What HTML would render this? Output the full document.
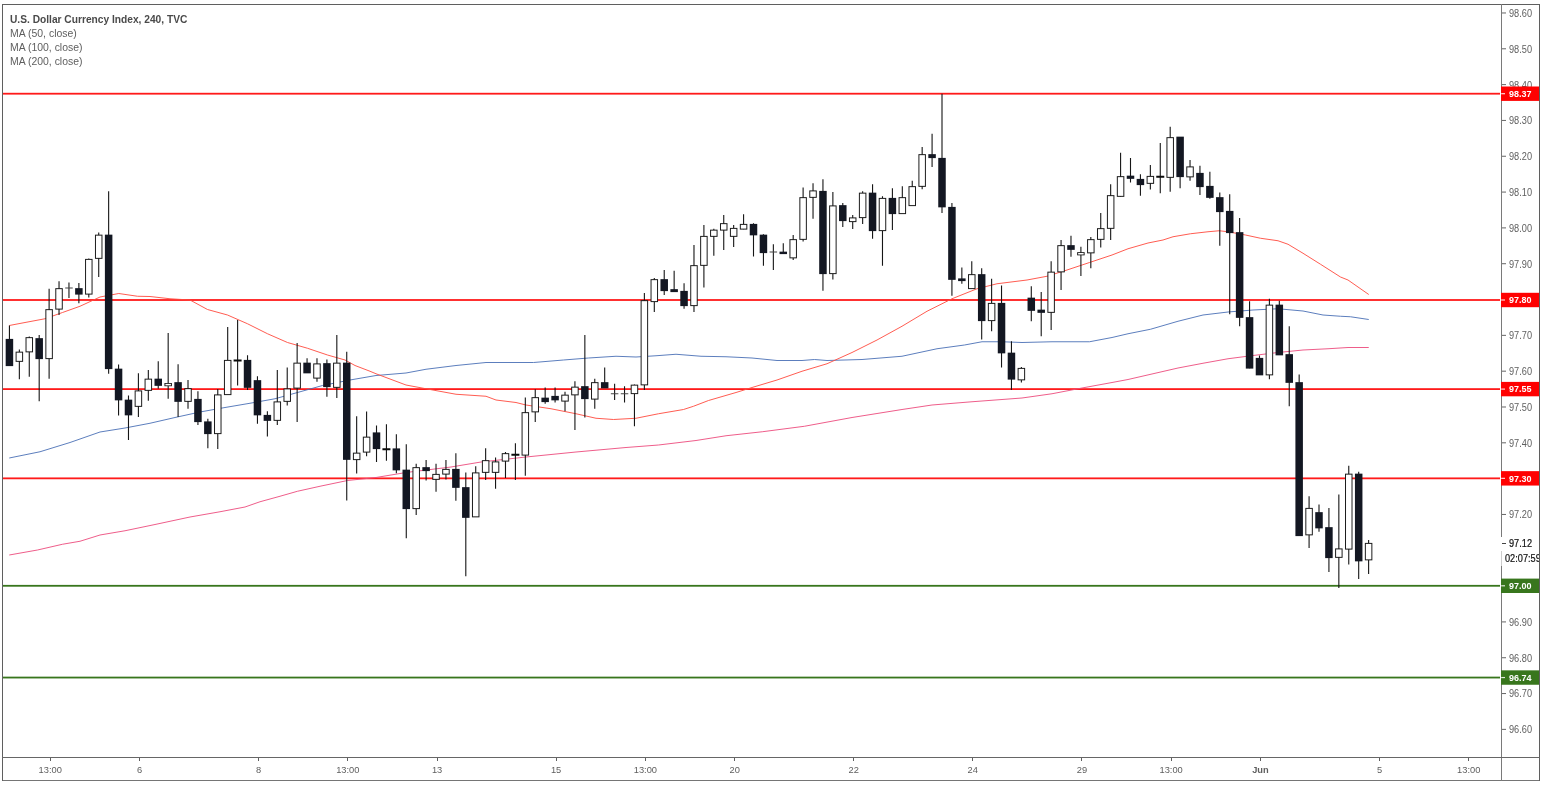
<!DOCTYPE html><html><head><meta charset="utf-8"><title>chart</title><style>
html,body{margin:0;padding:0;background:#fff;}
body{width:1545px;height:787px;overflow:hidden;position:relative;font-family:"Liberation Sans",sans-serif;}
svg{position:absolute;left:0;top:0;}
text{font-family:"Liberation Sans",sans-serif;}
svg{will-change:transform;opacity:0.999;}
</style></head><body>
<svg width="1545" height="787" viewBox="0 0 1545 787">
<rect x="0" y="0" width="1545" height="787" fill="#fff"/>
<rect x="3" y="92.80" width="1497" height="1.8" fill="#ff1a1a"/>
<rect x="3" y="299.10" width="1497" height="1.8" fill="#ff1a1a"/>
<rect x="3" y="388.20" width="1497" height="1.8" fill="#ff1a1a"/>
<rect x="3" y="477.45" width="1497" height="1.8" fill="#ff1a1a"/>
<rect x="3" y="584.90" width="1497" height="1.8" fill="#38761d"/>
<rect x="3" y="676.65" width="1497" height="1.8" fill="#38761d"/>
<polyline points="9.25,458.00 40.00,451.75 70.00,442.50 100.00,432.00 125.00,428.00 150.00,423.25 175.00,417.50 200.00,412.00 225.00,407.50 250.00,403.25 275.00,398.75 297.50,392.50 322.50,385.50 350.00,380.00 376.00,375.50 406.00,373.00 426.00,369.25 456.00,365.50 486.00,362.50 533.50,362.50 563.50,360.00 588.50,358.00 616.00,356.25 636.00,357.00 656.00,355.75 676.00,354.25 701.00,356.25 726.00,356.75 752.00,358.00 777.00,360.50 802.00,360.50 814.50,359.50 827.00,360.50 862.00,359.50 902.00,356.25 937.00,348.75 964.50,345.00 982.00,341.75 1002.00,341.75 1022.00,342.50 1052.00,341.75 1089.50,341.75 1112.00,337.50 1128.00,333.75 1150.50,329.25 1178.00,321.25 1203.00,315.00 1228.00,312.00 1253.00,310.00 1278.00,308.75 1303.00,311.00 1323.00,315.00 1340.50,316.25 1350.50,316.75 1368.75,319.50" fill="none" stroke="#4a6fb5" stroke-width="0.9" stroke-linejoin="round"/>
<polyline points="9.25,555.00 37.50,550.00 62.50,544.25 80.00,541.25 100.00,535.00 125.00,530.75 155.00,524.50 190.00,517.00 220.00,511.75 245.00,507.00 260.00,501.75 280.00,496.25 297.50,491.25 320.00,486.25 347.50,480.50 376.00,477.50 406.00,472.50 451.00,467.00 481.00,462.00 526.00,457.00 576.00,452.00 626.00,447.50 658.50,445.00 696.00,440.50 726.00,435.75 762.25,431.75 804.50,426.25 852.00,417.50 902.00,409.50 932.00,405.00 972.00,401.75 1022.00,398.00 1052.00,393.75 1082.00,388.00 1112.00,382.50 1128.00,379.50 1153.00,373.75 1178.00,368.00 1203.00,363.25 1228.00,358.75 1253.00,355.50 1278.00,352.50 1303.00,350.00 1328.00,348.75 1348.00,347.50 1368.75,347.50" fill="none" stroke="#ec4b7d" stroke-width="0.9" stroke-linejoin="round"/>
<polyline points="9.25,325.50 25.00,322.50 45.00,318.75 62.50,312.50 80.00,306.25 100.00,297.00 118.75,293.50 137.50,296.25 150.00,296.50 170.00,298.75 190.00,300.00 207.50,309.50 227.50,315.00 247.50,323.75 267.50,333.75 287.50,342.50 307.50,348.25 327.50,355.00 345.00,360.00 355.00,365.50 370.00,371.25 376.00,373.75 406.00,385.00 426.00,388.75 456.00,394.25 486.00,396.25 496.00,400.00 516.00,402.50 526.00,405.00 551.00,408.75 576.00,413.75 596.00,418.25 613.50,419.50 636.00,418.25 658.50,413.75 683.50,409.50 693.50,406.25 708.50,400.50 736.00,392.50 752.00,387.50 777.00,380.00 802.00,371.25 827.00,363.75 852.00,352.50 877.00,340.00 902.00,326.25 927.00,311.25 952.00,298.75 977.00,288.75 997.00,283.75 1027.00,280.00 1047.00,276.25 1067.00,270.00 1089.50,262.50 1112.00,255.00 1128.00,248.75 1148.00,243.00 1163.00,240.00 1173.00,236.75 1190.50,233.75 1208.00,231.75 1219.25,230.75 1228.00,231.75 1245.50,235.00 1260.50,238.25 1278.00,240.75 1288.00,244.25 1303.00,253.25 1320.50,264.25 1340.50,277.00 1348.00,280.00 1368.75,294.50" fill="none" stroke="#ff4a3d" stroke-width="0.9" stroke-linejoin="round"/>
<g>
<rect x="8.88" y="325.50" width="1.1" height="40.25" fill="#161616"/>
<rect x="5.68" y="338.90" width="7.5" height="27.20" fill="#131722"/>
<rect x="18.80" y="349.50" width="1.1" height="29.75" fill="#161616"/>
<rect x="15.60" y="351.65" width="7.5" height="10.20" fill="#1c1c1c"/>
<rect x="16.60" y="352.65" width="5.5" height="8.20" fill="#fff"/>
<rect x="28.72" y="336.50" width="1.1" height="40.25" fill="#161616"/>
<rect x="25.52" y="337.15" width="7.5" height="15.20" fill="#1c1c1c"/>
<rect x="26.52" y="338.15" width="5.5" height="13.20" fill="#fff"/>
<rect x="38.64" y="335.00" width="1.1" height="66.25" fill="#161616"/>
<rect x="35.44" y="338.15" width="7.5" height="20.95" fill="#131722"/>
<rect x="48.56" y="288.75" width="1.1" height="90.00" fill="#161616"/>
<rect x="45.36" y="309.15" width="7.5" height="49.95" fill="#1c1c1c"/>
<rect x="46.36" y="310.15" width="5.5" height="47.95" fill="#fff"/>
<rect x="58.48" y="281.25" width="1.1" height="33.75" fill="#161616"/>
<rect x="55.28" y="288.15" width="7.5" height="21.45" fill="#1c1c1c"/>
<rect x="56.28" y="289.15" width="5.5" height="19.45" fill="#fff"/>
<rect x="68.41" y="282.50" width="1.1" height="15.50" fill="#161616"/>
<rect x="65.21" y="287.50" width="7.5" height="1" fill="#444"/>
<rect x="78.33" y="283.00" width="1.1" height="20.25" fill="#161616"/>
<rect x="75.13" y="288.15" width="7.5" height="6.45" fill="#131722"/>
<rect x="88.25" y="258.50" width="1.1" height="39.00" fill="#161616"/>
<rect x="85.05" y="258.90" width="7.5" height="35.70" fill="#1c1c1c"/>
<rect x="86.05" y="259.90" width="5.5" height="33.70" fill="#fff"/>
<rect x="98.17" y="232.50" width="1.1" height="44.50" fill="#161616"/>
<rect x="94.97" y="234.65" width="7.5" height="24.20" fill="#1c1c1c"/>
<rect x="95.97" y="235.65" width="5.5" height="22.20" fill="#fff"/>
<rect x="108.09" y="191.25" width="1.1" height="182.50" fill="#161616"/>
<rect x="104.89" y="234.65" width="7.5" height="134.45" fill="#131722"/>
<rect x="118.01" y="364.50" width="1.1" height="51.00" fill="#161616"/>
<rect x="114.81" y="368.65" width="7.5" height="31.70" fill="#131722"/>
<rect x="127.93" y="395.50" width="1.1" height="44.50" fill="#161616"/>
<rect x="124.73" y="399.65" width="7.5" height="15.70" fill="#131722"/>
<rect x="137.85" y="373.25" width="1.1" height="43.75" fill="#161616"/>
<rect x="134.65" y="390.40" width="7.5" height="16.45" fill="#1c1c1c"/>
<rect x="135.65" y="391.40" width="5.5" height="14.45" fill="#fff"/>
<rect x="147.77" y="370.00" width="1.1" height="30.75" fill="#161616"/>
<rect x="144.57" y="378.65" width="7.5" height="12.20" fill="#1c1c1c"/>
<rect x="145.57" y="379.65" width="5.5" height="10.20" fill="#fff"/>
<rect x="157.69" y="361.25" width="1.1" height="27.50" fill="#161616"/>
<rect x="154.50" y="378.65" width="7.5" height="7.20" fill="#131722"/>
<rect x="167.62" y="333.00" width="1.1" height="65.75" fill="#161616"/>
<rect x="164.42" y="383.02" width="7.5" height="3.20" fill="#1c1c1c"/>
<rect x="165.42" y="383.88" width="5.5" height="1.50" fill="#fff"/>
<rect x="177.54" y="364.25" width="1.1" height="52.75" fill="#161616"/>
<rect x="174.34" y="382.15" width="7.5" height="19.70" fill="#131722"/>
<rect x="187.46" y="380.00" width="1.1" height="28.75" fill="#161616"/>
<rect x="184.26" y="388.15" width="7.5" height="13.70" fill="#1c1c1c"/>
<rect x="185.26" y="389.15" width="5.5" height="11.70" fill="#fff"/>
<rect x="197.38" y="391.25" width="1.1" height="33.75" fill="#161616"/>
<rect x="194.18" y="398.90" width="7.5" height="23.20" fill="#131722"/>
<rect x="207.30" y="418.75" width="1.1" height="29.50" fill="#161616"/>
<rect x="204.10" y="421.40" width="7.5" height="12.70" fill="#131722"/>
<rect x="217.22" y="389.00" width="1.1" height="60.00" fill="#161616"/>
<rect x="214.02" y="394.40" width="7.5" height="39.70" fill="#1c1c1c"/>
<rect x="215.02" y="395.40" width="5.5" height="37.70" fill="#fff"/>
<rect x="227.14" y="327.00" width="1.1" height="67.75" fill="#161616"/>
<rect x="223.94" y="359.90" width="7.5" height="35.20" fill="#1c1c1c"/>
<rect x="224.94" y="360.90" width="5.5" height="33.20" fill="#fff"/>
<rect x="237.06" y="320.00" width="1.1" height="65.50" fill="#161616"/>
<rect x="233.61" y="359.50" width="8" height="2" fill="#0a0a0a"/>
<rect x="246.98" y="355.25" width="1.1" height="34.75" fill="#161616"/>
<rect x="243.78" y="359.90" width="7.5" height="27.95" fill="#131722"/>
<rect x="256.90" y="376.25" width="1.1" height="47.50" fill="#161616"/>
<rect x="253.70" y="380.15" width="7.5" height="35.20" fill="#131722"/>
<rect x="266.83" y="411.25" width="1.1" height="25.25" fill="#161616"/>
<rect x="263.63" y="414.90" width="7.5" height="5.95" fill="#131722"/>
<rect x="276.75" y="370.00" width="1.1" height="55.00" fill="#161616"/>
<rect x="273.55" y="401.40" width="7.5" height="19.45" fill="#1c1c1c"/>
<rect x="274.55" y="402.40" width="5.5" height="17.45" fill="#fff"/>
<rect x="286.67" y="367.50" width="1.1" height="38.00" fill="#161616"/>
<rect x="283.47" y="388.40" width="7.5" height="13.45" fill="#1c1c1c"/>
<rect x="284.47" y="389.40" width="5.5" height="11.45" fill="#fff"/>
<rect x="296.59" y="343.00" width="1.1" height="79.00" fill="#161616"/>
<rect x="293.39" y="362.65" width="7.5" height="25.95" fill="#1c1c1c"/>
<rect x="294.39" y="363.65" width="5.5" height="23.95" fill="#fff"/>
<rect x="306.51" y="358.25" width="1.1" height="14.75" fill="#161616"/>
<rect x="303.31" y="362.65" width="7.5" height="10.70" fill="#131722"/>
<rect x="316.43" y="358.25" width="1.1" height="23.50" fill="#161616"/>
<rect x="313.23" y="363.40" width="7.5" height="15.20" fill="#1c1c1c"/>
<rect x="314.23" y="364.40" width="5.5" height="13.20" fill="#fff"/>
<rect x="326.35" y="359.50" width="1.1" height="37.25" fill="#161616"/>
<rect x="323.15" y="363.15" width="7.5" height="23.95" fill="#131722"/>
<rect x="336.27" y="335.00" width="1.1" height="63.00" fill="#161616"/>
<rect x="333.07" y="362.65" width="7.5" height="25.20" fill="#1c1c1c"/>
<rect x="334.07" y="363.65" width="5.5" height="23.20" fill="#fff"/>
<rect x="346.19" y="351.75" width="1.1" height="148.75" fill="#161616"/>
<rect x="342.99" y="362.65" width="7.5" height="97.20" fill="#131722"/>
<rect x="356.11" y="416.25" width="1.1" height="57.25" fill="#161616"/>
<rect x="352.91" y="452.65" width="7.5" height="7.45" fill="#1c1c1c"/>
<rect x="353.91" y="453.65" width="5.5" height="5.45" fill="#fff"/>
<rect x="366.04" y="411.50" width="1.1" height="44.75" fill="#161616"/>
<rect x="362.84" y="436.65" width="7.5" height="15.95" fill="#1c1c1c"/>
<rect x="363.84" y="437.65" width="5.5" height="13.95" fill="#fff"/>
<rect x="375.96" y="425.50" width="1.1" height="36.50" fill="#161616"/>
<rect x="372.76" y="432.40" width="7.5" height="16.70" fill="#131722"/>
<rect x="385.88" y="424.25" width="1.1" height="36.50" fill="#161616"/>
<rect x="382.43" y="448.25" width="8" height="2" fill="#0a0a0a"/>
<rect x="395.80" y="434.25" width="1.1" height="39.00" fill="#161616"/>
<rect x="392.60" y="448.40" width="7.5" height="21.95" fill="#131722"/>
<rect x="405.72" y="444.25" width="1.1" height="94.00" fill="#161616"/>
<rect x="402.52" y="469.65" width="7.5" height="39.45" fill="#131722"/>
<rect x="415.64" y="463.75" width="1.1" height="51.25" fill="#161616"/>
<rect x="412.44" y="467.15" width="7.5" height="41.95" fill="#1c1c1c"/>
<rect x="413.44" y="468.15" width="5.5" height="39.95" fill="#fff"/>
<rect x="425.56" y="460.00" width="1.1" height="20.50" fill="#161616"/>
<rect x="422.36" y="467.15" width="7.5" height="3.95" fill="#131722"/>
<rect x="435.48" y="463.75" width="1.1" height="28.00" fill="#161616"/>
<rect x="432.28" y="473.90" width="7.5" height="5.95" fill="#1c1c1c"/>
<rect x="433.28" y="474.90" width="5.5" height="3.95" fill="#fff"/>
<rect x="445.40" y="460.00" width="1.1" height="19.50" fill="#161616"/>
<rect x="442.20" y="468.90" width="7.5" height="5.70" fill="#1c1c1c"/>
<rect x="443.20" y="469.90" width="5.5" height="3.70" fill="#fff"/>
<rect x="455.32" y="453.25" width="1.1" height="47.50" fill="#161616"/>
<rect x="452.12" y="468.90" width="7.5" height="18.95" fill="#131722"/>
<rect x="465.25" y="472.50" width="1.1" height="103.75" fill="#161616"/>
<rect x="462.05" y="487.15" width="7.5" height="30.70" fill="#131722"/>
<rect x="475.17" y="466.25" width="1.1" height="50.75" fill="#161616"/>
<rect x="471.97" y="472.40" width="7.5" height="44.95" fill="#1c1c1c"/>
<rect x="472.97" y="473.40" width="5.5" height="42.95" fill="#fff"/>
<rect x="485.09" y="448.25" width="1.1" height="31.75" fill="#161616"/>
<rect x="481.89" y="460.15" width="7.5" height="12.70" fill="#1c1c1c"/>
<rect x="482.89" y="461.15" width="5.5" height="10.70" fill="#fff"/>
<rect x="495.01" y="457.50" width="1.1" height="31.25" fill="#161616"/>
<rect x="491.81" y="461.40" width="7.5" height="11.45" fill="#1c1c1c"/>
<rect x="492.81" y="462.40" width="5.5" height="9.45" fill="#fff"/>
<rect x="504.93" y="452.00" width="1.1" height="26.00" fill="#161616"/>
<rect x="501.73" y="453.15" width="7.5" height="8.45" fill="#1c1c1c"/>
<rect x="502.73" y="454.15" width="5.5" height="6.45" fill="#fff"/>
<rect x="514.85" y="443.25" width="1.1" height="36.75" fill="#161616"/>
<rect x="511.40" y="453.75" width="8" height="2" fill="#0a0a0a"/>
<rect x="524.77" y="397.50" width="1.1" height="78.25" fill="#161616"/>
<rect x="521.57" y="412.15" width="7.5" height="43.45" fill="#1c1c1c"/>
<rect x="522.57" y="413.15" width="5.5" height="41.45" fill="#fff"/>
<rect x="534.69" y="389.25" width="1.1" height="32.75" fill="#161616"/>
<rect x="531.49" y="397.15" width="7.5" height="15.20" fill="#1c1c1c"/>
<rect x="532.49" y="398.15" width="5.5" height="13.20" fill="#fff"/>
<rect x="544.61" y="387.50" width="1.1" height="16.25" fill="#161616"/>
<rect x="541.41" y="397.65" width="7.5" height="4.45" fill="#131722"/>
<rect x="554.53" y="387.50" width="1.1" height="15.00" fill="#161616"/>
<rect x="551.33" y="395.90" width="7.5" height="4.45" fill="#131722"/>
<rect x="564.46" y="391.75" width="1.1" height="19.50" fill="#161616"/>
<rect x="561.26" y="394.65" width="7.5" height="6.95" fill="#1c1c1c"/>
<rect x="562.26" y="395.65" width="5.5" height="4.95" fill="#fff"/>
<rect x="574.38" y="381.25" width="1.1" height="48.75" fill="#161616"/>
<rect x="571.18" y="386.65" width="7.5" height="8.70" fill="#1c1c1c"/>
<rect x="572.18" y="387.65" width="5.5" height="6.70" fill="#fff"/>
<rect x="584.30" y="335.00" width="1.1" height="82.50" fill="#161616"/>
<rect x="581.10" y="386.15" width="7.5" height="12.95" fill="#131722"/>
<rect x="594.22" y="378.75" width="1.1" height="30.00" fill="#161616"/>
<rect x="591.02" y="382.15" width="7.5" height="17.45" fill="#1c1c1c"/>
<rect x="592.02" y="383.15" width="5.5" height="15.45" fill="#fff"/>
<rect x="604.14" y="367.50" width="1.1" height="20.50" fill="#161616"/>
<rect x="600.94" y="382.15" width="7.5" height="6.20" fill="#131722"/>
<rect x="614.06" y="383.75" width="1.1" height="16.25" fill="#161616"/>
<rect x="610.86" y="393.25" width="7.5" height="1" fill="#444"/>
<rect x="623.98" y="386.25" width="1.1" height="16.25" fill="#161616"/>
<rect x="620.78" y="393.25" width="7.5" height="1" fill="#444"/>
<rect x="633.90" y="384.50" width="1.1" height="41.75" fill="#161616"/>
<rect x="630.70" y="384.65" width="7.5" height="9.45" fill="#1c1c1c"/>
<rect x="631.70" y="385.65" width="5.5" height="7.45" fill="#fff"/>
<rect x="643.82" y="293.00" width="1.1" height="97.00" fill="#161616"/>
<rect x="640.62" y="300.15" width="7.5" height="85.20" fill="#1c1c1c"/>
<rect x="641.62" y="301.15" width="5.5" height="83.20" fill="#fff"/>
<rect x="653.75" y="278.00" width="1.1" height="34.00" fill="#161616"/>
<rect x="650.54" y="279.15" width="7.5" height="22.95" fill="#1c1c1c"/>
<rect x="651.54" y="280.15" width="5.5" height="20.95" fill="#fff"/>
<rect x="663.67" y="270.00" width="1.1" height="25.00" fill="#161616"/>
<rect x="660.47" y="279.15" width="7.5" height="11.95" fill="#131722"/>
<rect x="673.59" y="270.75" width="1.1" height="21.00" fill="#161616"/>
<rect x="670.39" y="289.15" width="7.5" height="2.95" fill="#131722"/>
<rect x="683.51" y="283.25" width="1.1" height="25.50" fill="#161616"/>
<rect x="680.31" y="290.90" width="7.5" height="15.20" fill="#131722"/>
<rect x="693.43" y="245.00" width="1.1" height="67.00" fill="#161616"/>
<rect x="690.23" y="265.15" width="7.5" height="40.95" fill="#1c1c1c"/>
<rect x="691.23" y="266.15" width="5.5" height="38.95" fill="#fff"/>
<rect x="703.35" y="225.00" width="1.1" height="62.50" fill="#161616"/>
<rect x="700.15" y="235.90" width="7.5" height="29.95" fill="#1c1c1c"/>
<rect x="701.15" y="236.90" width="5.5" height="27.95" fill="#fff"/>
<rect x="713.27" y="228.75" width="1.1" height="27.00" fill="#161616"/>
<rect x="710.07" y="229.65" width="7.5" height="7.20" fill="#1c1c1c"/>
<rect x="711.07" y="230.65" width="5.5" height="5.20" fill="#fff"/>
<rect x="723.19" y="215.00" width="1.1" height="35.00" fill="#161616"/>
<rect x="719.99" y="223.15" width="7.5" height="7.45" fill="#1c1c1c"/>
<rect x="720.99" y="224.15" width="5.5" height="5.45" fill="#fff"/>
<rect x="733.11" y="225.00" width="1.1" height="22.00" fill="#161616"/>
<rect x="729.91" y="227.90" width="7.5" height="8.95" fill="#1c1c1c"/>
<rect x="730.91" y="228.90" width="5.5" height="6.95" fill="#fff"/>
<rect x="743.03" y="214.25" width="1.1" height="15.00" fill="#161616"/>
<rect x="739.83" y="223.90" width="7.5" height="5.70" fill="#1c1c1c"/>
<rect x="740.83" y="224.90" width="5.5" height="3.70" fill="#fff"/>
<rect x="752.95" y="223.25" width="1.1" height="33.25" fill="#161616"/>
<rect x="749.75" y="223.90" width="7.5" height="11.45" fill="#131722"/>
<rect x="762.88" y="234.25" width="1.1" height="31.50" fill="#161616"/>
<rect x="759.68" y="234.65" width="7.5" height="18.45" fill="#131722"/>
<rect x="772.80" y="244.25" width="1.1" height="25.75" fill="#161616"/>
<rect x="769.60" y="251.50" width="7.5" height="1" fill="#444"/>
<rect x="782.72" y="243.25" width="1.1" height="10.50" fill="#161616"/>
<rect x="779.52" y="251.65" width="7.5" height="2.45" fill="#131722"/>
<rect x="792.64" y="235.00" width="1.1" height="25.00" fill="#161616"/>
<rect x="789.44" y="239.15" width="7.5" height="19.20" fill="#1c1c1c"/>
<rect x="790.44" y="240.15" width="5.5" height="17.20" fill="#fff"/>
<rect x="802.56" y="187.50" width="1.1" height="54.00" fill="#161616"/>
<rect x="799.36" y="197.15" width="7.5" height="42.70" fill="#1c1c1c"/>
<rect x="800.36" y="198.15" width="5.5" height="40.70" fill="#fff"/>
<rect x="812.48" y="183.25" width="1.1" height="35.50" fill="#161616"/>
<rect x="809.28" y="190.40" width="7.5" height="7.45" fill="#1c1c1c"/>
<rect x="810.28" y="191.40" width="5.5" height="5.45" fill="#fff"/>
<rect x="822.40" y="179.25" width="1.1" height="111.50" fill="#161616"/>
<rect x="819.20" y="190.90" width="7.5" height="83.20" fill="#131722"/>
<rect x="832.32" y="192.00" width="1.1" height="87.50" fill="#161616"/>
<rect x="829.12" y="205.40" width="7.5" height="68.70" fill="#1c1c1c"/>
<rect x="830.12" y="206.40" width="5.5" height="66.70" fill="#fff"/>
<rect x="842.24" y="203.00" width="1.1" height="24.00" fill="#161616"/>
<rect x="839.04" y="205.15" width="7.5" height="15.95" fill="#131722"/>
<rect x="852.16" y="215.00" width="1.1" height="14.00" fill="#161616"/>
<rect x="848.96" y="217.40" width="7.5" height="4.70" fill="#1c1c1c"/>
<rect x="849.96" y="218.40" width="5.5" height="2.70" fill="#fff"/>
<rect x="862.09" y="191.25" width="1.1" height="32.75" fill="#161616"/>
<rect x="858.89" y="192.65" width="7.5" height="25.45" fill="#1c1c1c"/>
<rect x="859.89" y="193.65" width="5.5" height="23.45" fill="#fff"/>
<rect x="872.01" y="184.25" width="1.1" height="54.50" fill="#161616"/>
<rect x="868.81" y="192.65" width="7.5" height="38.45" fill="#131722"/>
<rect x="881.93" y="196.25" width="1.1" height="69.50" fill="#161616"/>
<rect x="878.73" y="197.90" width="7.5" height="33.20" fill="#1c1c1c"/>
<rect x="879.73" y="198.90" width="5.5" height="31.20" fill="#fff"/>
<rect x="891.85" y="188.25" width="1.1" height="41.75" fill="#161616"/>
<rect x="888.65" y="197.90" width="7.5" height="16.20" fill="#131722"/>
<rect x="901.77" y="186.25" width="1.1" height="27.50" fill="#161616"/>
<rect x="898.57" y="197.15" width="7.5" height="16.95" fill="#1c1c1c"/>
<rect x="899.57" y="198.15" width="5.5" height="14.95" fill="#fff"/>
<rect x="911.69" y="180.75" width="1.1" height="25.00" fill="#161616"/>
<rect x="908.49" y="186.15" width="7.5" height="19.95" fill="#1c1c1c"/>
<rect x="909.49" y="187.15" width="5.5" height="17.95" fill="#fff"/>
<rect x="921.61" y="147.00" width="1.1" height="42.25" fill="#161616"/>
<rect x="918.41" y="154.15" width="7.5" height="32.70" fill="#1c1c1c"/>
<rect x="919.41" y="155.15" width="5.5" height="30.70" fill="#fff"/>
<rect x="931.53" y="133.75" width="1.1" height="33.25" fill="#161616"/>
<rect x="928.33" y="154.15" width="7.5" height="3.95" fill="#131722"/>
<rect x="941.45" y="93.75" width="1.1" height="119.25" fill="#161616"/>
<rect x="938.25" y="157.90" width="7.5" height="49.45" fill="#131722"/>
<rect x="951.37" y="203.00" width="1.1" height="92.75" fill="#161616"/>
<rect x="948.17" y="206.90" width="7.5" height="72.95" fill="#131722"/>
<rect x="961.30" y="267.50" width="1.1" height="16.25" fill="#161616"/>
<rect x="958.10" y="278.40" width="7.5" height="2.70" fill="#131722"/>
<rect x="971.22" y="261.25" width="1.1" height="27.50" fill="#161616"/>
<rect x="968.02" y="274.15" width="7.5" height="14.95" fill="#1c1c1c"/>
<rect x="969.02" y="275.15" width="5.5" height="12.95" fill="#fff"/>
<rect x="981.14" y="268.25" width="1.1" height="71.25" fill="#161616"/>
<rect x="977.94" y="274.15" width="7.5" height="46.95" fill="#131722"/>
<rect x="991.06" y="278.75" width="1.1" height="52.50" fill="#161616"/>
<rect x="987.86" y="302.90" width="7.5" height="18.20" fill="#1c1c1c"/>
<rect x="988.86" y="303.90" width="5.5" height="16.20" fill="#fff"/>
<rect x="1000.98" y="285.50" width="1.1" height="82.00" fill="#161616"/>
<rect x="997.78" y="302.90" width="7.5" height="50.45" fill="#131722"/>
<rect x="1010.90" y="341.25" width="1.1" height="48.75" fill="#161616"/>
<rect x="1007.70" y="352.65" width="7.5" height="26.95" fill="#131722"/>
<rect x="1020.82" y="367.00" width="1.1" height="15.50" fill="#161616"/>
<rect x="1017.62" y="367.90" width="7.5" height="12.45" fill="#1c1c1c"/>
<rect x="1018.62" y="368.90" width="5.5" height="10.45" fill="#fff"/>
<rect x="1030.74" y="286.25" width="1.1" height="35.00" fill="#161616"/>
<rect x="1027.54" y="297.65" width="7.5" height="13.20" fill="#131722"/>
<rect x="1040.66" y="292.00" width="1.1" height="44.25" fill="#161616"/>
<rect x="1037.46" y="309.65" width="7.5" height="3.20" fill="#131722"/>
<rect x="1050.59" y="261.25" width="1.1" height="68.75" fill="#161616"/>
<rect x="1047.38" y="271.65" width="7.5" height="41.20" fill="#1c1c1c"/>
<rect x="1048.38" y="272.65" width="5.5" height="39.20" fill="#fff"/>
<rect x="1060.51" y="240.00" width="1.1" height="50.00" fill="#161616"/>
<rect x="1057.31" y="245.15" width="7.5" height="27.20" fill="#1c1c1c"/>
<rect x="1058.31" y="246.15" width="5.5" height="25.20" fill="#fff"/>
<rect x="1070.43" y="235.75" width="1.1" height="21.00" fill="#161616"/>
<rect x="1067.23" y="245.15" width="7.5" height="4.70" fill="#131722"/>
<rect x="1080.35" y="246.75" width="1.1" height="29.25" fill="#161616"/>
<rect x="1077.15" y="252.15" width="7.5" height="3.20" fill="#1c1c1c"/>
<rect x="1078.15" y="253.00" width="5.5" height="1.50" fill="#fff"/>
<rect x="1090.27" y="237.00" width="1.1" height="31.25" fill="#161616"/>
<rect x="1087.07" y="239.15" width="7.5" height="14.20" fill="#1c1c1c"/>
<rect x="1088.07" y="240.15" width="5.5" height="12.20" fill="#fff"/>
<rect x="1100.19" y="213.00" width="1.1" height="34.50" fill="#161616"/>
<rect x="1096.99" y="228.15" width="7.5" height="11.70" fill="#1c1c1c"/>
<rect x="1097.99" y="229.15" width="5.5" height="9.70" fill="#fff"/>
<rect x="1110.11" y="184.25" width="1.1" height="55.75" fill="#161616"/>
<rect x="1106.91" y="195.15" width="7.5" height="33.70" fill="#1c1c1c"/>
<rect x="1107.91" y="196.15" width="5.5" height="31.70" fill="#fff"/>
<rect x="1120.03" y="152.75" width="1.1" height="43.75" fill="#161616"/>
<rect x="1116.83" y="176.15" width="7.5" height="20.70" fill="#1c1c1c"/>
<rect x="1117.83" y="177.15" width="5.5" height="18.70" fill="#fff"/>
<rect x="1129.95" y="158.00" width="1.1" height="24.50" fill="#161616"/>
<rect x="1126.75" y="175.65" width="7.5" height="3.20" fill="#131722"/>
<rect x="1139.87" y="174.25" width="1.1" height="21.50" fill="#161616"/>
<rect x="1136.67" y="178.90" width="7.5" height="6.20" fill="#131722"/>
<rect x="1149.80" y="165.00" width="1.1" height="24.50" fill="#161616"/>
<rect x="1146.60" y="175.90" width="7.5" height="7.95" fill="#1c1c1c"/>
<rect x="1147.60" y="176.90" width="5.5" height="5.95" fill="#fff"/>
<rect x="1159.72" y="143.00" width="1.1" height="50.25" fill="#161616"/>
<rect x="1156.27" y="175.75" width="8" height="2" fill="#0a0a0a"/>
<rect x="1169.64" y="126.75" width="1.1" height="65.00" fill="#161616"/>
<rect x="1166.44" y="137.15" width="7.5" height="40.70" fill="#1c1c1c"/>
<rect x="1167.44" y="138.15" width="5.5" height="38.70" fill="#fff"/>
<rect x="1179.56" y="137.00" width="1.1" height="51.25" fill="#161616"/>
<rect x="1176.36" y="136.65" width="7.5" height="40.45" fill="#131722"/>
<rect x="1189.48" y="160.00" width="1.1" height="20.75" fill="#161616"/>
<rect x="1186.28" y="166.40" width="7.5" height="10.95" fill="#1c1c1c"/>
<rect x="1187.28" y="167.40" width="5.5" height="8.95" fill="#fff"/>
<rect x="1199.40" y="165.75" width="1.1" height="29.25" fill="#161616"/>
<rect x="1196.20" y="172.90" width="7.5" height="14.20" fill="#131722"/>
<rect x="1209.32" y="171.75" width="1.1" height="27.00" fill="#161616"/>
<rect x="1206.12" y="185.90" width="7.5" height="11.95" fill="#131722"/>
<rect x="1219.24" y="192.50" width="1.1" height="53.25" fill="#161616"/>
<rect x="1216.04" y="197.15" width="7.5" height="14.95" fill="#131722"/>
<rect x="1229.16" y="194.25" width="1.1" height="120.00" fill="#161616"/>
<rect x="1225.96" y="210.90" width="7.5" height="22.20" fill="#131722"/>
<rect x="1239.08" y="218.00" width="1.1" height="108.25" fill="#161616"/>
<rect x="1235.88" y="232.15" width="7.5" height="85.70" fill="#131722"/>
<rect x="1249.01" y="301.25" width="1.1" height="67.00" fill="#161616"/>
<rect x="1245.81" y="317.15" width="7.5" height="51.45" fill="#131722"/>
<rect x="1258.93" y="355.50" width="1.1" height="19.50" fill="#161616"/>
<rect x="1255.73" y="357.90" width="7.5" height="17.45" fill="#131722"/>
<rect x="1268.85" y="298.75" width="1.1" height="80.50" fill="#161616"/>
<rect x="1265.65" y="304.65" width="7.5" height="70.70" fill="#1c1c1c"/>
<rect x="1266.65" y="305.65" width="5.5" height="68.70" fill="#fff"/>
<rect x="1278.77" y="300.75" width="1.1" height="54.25" fill="#161616"/>
<rect x="1275.57" y="304.65" width="7.5" height="50.70" fill="#131722"/>
<rect x="1288.69" y="326.25" width="1.1" height="80.00" fill="#161616"/>
<rect x="1285.49" y="354.15" width="7.5" height="28.70" fill="#131722"/>
<rect x="1298.61" y="374.50" width="1.1" height="161.25" fill="#161616"/>
<rect x="1295.41" y="382.15" width="7.5" height="153.95" fill="#131722"/>
<rect x="1308.53" y="496.25" width="1.1" height="51.75" fill="#161616"/>
<rect x="1305.33" y="507.90" width="7.5" height="27.45" fill="#1c1c1c"/>
<rect x="1306.33" y="508.90" width="5.5" height="25.45" fill="#fff"/>
<rect x="1318.45" y="504.50" width="1.1" height="27.25" fill="#161616"/>
<rect x="1315.25" y="512.15" width="7.5" height="16.20" fill="#131722"/>
<rect x="1328.37" y="508.00" width="1.1" height="64.00" fill="#161616"/>
<rect x="1325.17" y="527.15" width="7.5" height="30.95" fill="#131722"/>
<rect x="1338.29" y="494.50" width="1.1" height="93.50" fill="#161616"/>
<rect x="1335.09" y="548.40" width="7.5" height="9.45" fill="#1c1c1c"/>
<rect x="1336.09" y="549.40" width="5.5" height="7.45" fill="#fff"/>
<rect x="1348.21" y="465.75" width="1.1" height="98.75" fill="#161616"/>
<rect x="1345.01" y="473.65" width="7.5" height="75.95" fill="#1c1c1c"/>
<rect x="1346.01" y="474.65" width="5.5" height="73.95" fill="#fff"/>
<rect x="1358.14" y="471.75" width="1.1" height="107.25" fill="#161616"/>
<rect x="1354.94" y="473.65" width="7.5" height="87.70" fill="#131722"/>
<rect x="1368.06" y="540.00" width="1.1" height="34.00" fill="#161616"/>
<rect x="1364.86" y="542.90" width="7.5" height="17.45" fill="#1c1c1c"/>
<rect x="1365.86" y="543.90" width="5.5" height="15.45" fill="#fff"/>
</g>
<g shape-rendering="crispEdges">
<rect x="2" y="4" width="1538" height="1" fill="#5f5f5f"/>
<rect x="2" y="780" width="1538" height="1" fill="#757575"/>
<rect x="2" y="4" width="1" height="777" fill="#5f5f5f"/>
<rect x="1539" y="4" width="1" height="777" fill="#5f5f5f"/>
<rect x="1501" y="4" width="1" height="777" fill="#7a7a7a"/>
<rect x="2" y="757" width="1538" height="1" fill="#666"/>
<rect x="1502" y="12.47" width="4" height="1" fill="#666" shape-rendering="auto"/>
<rect x="1502" y="48.29" width="4" height="1" fill="#666" shape-rendering="auto"/>
<rect x="1502" y="84.11" width="4" height="1" fill="#666" shape-rendering="auto"/>
<rect x="1502" y="119.93" width="4" height="1" fill="#666" shape-rendering="auto"/>
<rect x="1502" y="155.75" width="4" height="1" fill="#666" shape-rendering="auto"/>
<rect x="1502" y="191.57" width="4" height="1" fill="#666" shape-rendering="auto"/>
<rect x="1502" y="227.39" width="4" height="1" fill="#666" shape-rendering="auto"/>
<rect x="1502" y="263.21" width="4" height="1" fill="#666" shape-rendering="auto"/>
<rect x="1502" y="299.03" width="4" height="1" fill="#666" shape-rendering="auto"/>
<rect x="1502" y="334.85" width="4" height="1" fill="#666" shape-rendering="auto"/>
<rect x="1502" y="370.67" width="4" height="1" fill="#666" shape-rendering="auto"/>
<rect x="1502" y="406.49" width="4" height="1" fill="#666" shape-rendering="auto"/>
<rect x="1502" y="442.31" width="4" height="1" fill="#666" shape-rendering="auto"/>
<rect x="1502" y="478.13" width="4" height="1" fill="#666" shape-rendering="auto"/>
<rect x="1502" y="513.95" width="4" height="1" fill="#666" shape-rendering="auto"/>
<rect x="1502" y="549.77" width="4" height="1" fill="#666" shape-rendering="auto"/>
<rect x="1502" y="585.59" width="4" height="1" fill="#666" shape-rendering="auto"/>
<rect x="1502" y="621.41" width="4" height="1" fill="#666" shape-rendering="auto"/>
<rect x="1502" y="657.23" width="4" height="1" fill="#666" shape-rendering="auto"/>
<rect x="1502" y="693.05" width="4" height="1" fill="#666" shape-rendering="auto"/>
<rect x="1502" y="728.87" width="4" height="1" fill="#666" shape-rendering="auto"/>
<rect x="50" y="758" width="1" height="3" fill="#5f5f5f"/>
<rect x="139" y="758" width="1" height="3" fill="#5f5f5f"/>
<rect x="258" y="758" width="1" height="3" fill="#5f5f5f"/>
<rect x="347" y="758" width="1" height="3" fill="#5f5f5f"/>
<rect x="437" y="758" width="1" height="3" fill="#5f5f5f"/>
<rect x="556" y="758" width="1" height="3" fill="#5f5f5f"/>
<rect x="645" y="758" width="1" height="3" fill="#5f5f5f"/>
<rect x="734" y="758" width="1" height="3" fill="#5f5f5f"/>
<rect x="853" y="758" width="1" height="3" fill="#5f5f5f"/>
<rect x="972" y="758" width="1" height="3" fill="#5f5f5f"/>
<rect x="1081" y="758" width="1" height="3" fill="#5f5f5f"/>
<rect x="1171" y="758" width="1" height="3" fill="#5f5f5f"/>
<rect x="1260" y="758" width="1" height="3" fill="#5f5f5f"/>
<rect x="1379" y="758" width="1" height="3" fill="#5f5f5f"/>
<rect x="1468" y="758" width="1" height="3" fill="#5f5f5f"/>
</g>
<text transform="translate(1509,16.87) scale(0.885,0.99)" font-size="10.4" fill="#5e5e5e">98.60</text>
<text transform="translate(1509,52.69) scale(0.885,0.99)" font-size="10.4" fill="#5e5e5e">98.50</text>
<text transform="translate(1509,88.51) scale(0.885,0.99)" font-size="10.4" fill="#5e5e5e">98.40</text>
<text transform="translate(1509,124.33) scale(0.885,0.99)" font-size="10.4" fill="#5e5e5e">98.30</text>
<text transform="translate(1509,160.15) scale(0.885,0.99)" font-size="10.4" fill="#5e5e5e">98.20</text>
<text transform="translate(1509,195.97) scale(0.885,0.99)" font-size="10.4" fill="#5e5e5e">98.10</text>
<text transform="translate(1509,231.79) scale(0.885,0.99)" font-size="10.4" fill="#5e5e5e">98.00</text>
<text transform="translate(1509,267.61) scale(0.885,0.99)" font-size="10.4" fill="#5e5e5e">97.90</text>
<text transform="translate(1509,303.43) scale(0.885,0.99)" font-size="10.4" fill="#5e5e5e">97.80</text>
<text transform="translate(1509,339.25) scale(0.885,0.99)" font-size="10.4" fill="#5e5e5e">97.70</text>
<text transform="translate(1509,375.07) scale(0.885,0.99)" font-size="10.4" fill="#5e5e5e">97.60</text>
<text transform="translate(1509,410.89) scale(0.885,0.99)" font-size="10.4" fill="#5e5e5e">97.50</text>
<text transform="translate(1509,446.71) scale(0.885,0.99)" font-size="10.4" fill="#5e5e5e">97.40</text>
<text transform="translate(1509,482.53) scale(0.885,0.99)" font-size="10.4" fill="#5e5e5e">97.30</text>
<text transform="translate(1509,518.35) scale(0.885,0.99)" font-size="10.4" fill="#5e5e5e">97.20</text>
<text transform="translate(1509,554.17) scale(0.885,0.99)" font-size="10.4" fill="#5e5e5e">97.10</text>
<text transform="translate(1509,589.99) scale(0.885,0.99)" font-size="10.4" fill="#5e5e5e">97.00</text>
<text transform="translate(1509,625.81) scale(0.885,0.99)" font-size="10.4" fill="#5e5e5e">96.90</text>
<text transform="translate(1509,661.63) scale(0.885,0.99)" font-size="10.4" fill="#5e5e5e">96.80</text>
<text transform="translate(1509,697.45) scale(0.885,0.99)" font-size="10.4" fill="#5e5e5e">96.70</text>
<text transform="translate(1509,733.27) scale(0.885,0.99)" font-size="10.4" fill="#5e5e5e">96.60</text>
<text transform="translate(50.2,772.8) scale(0.96,1)" font-size="9.7" fill="#5e5e5e" text-anchor="middle">13:00</text>
<text transform="translate(139.5,772.8) scale(0.96,1)" font-size="9.7" fill="#5e5e5e" text-anchor="middle">6</text>
<text transform="translate(258.5,772.8) scale(0.96,1)" font-size="9.7" fill="#5e5e5e" text-anchor="middle">8</text>
<text transform="translate(347.8,772.8) scale(0.96,1)" font-size="9.7" fill="#5e5e5e" text-anchor="middle">13:00</text>
<text transform="translate(437.1,772.8) scale(0.96,1)" font-size="9.7" fill="#5e5e5e" text-anchor="middle">13</text>
<text transform="translate(556.1,772.8) scale(0.96,1)" font-size="9.7" fill="#5e5e5e" text-anchor="middle">15</text>
<text transform="translate(645.4,772.8) scale(0.96,1)" font-size="9.7" fill="#5e5e5e" text-anchor="middle">13:00</text>
<text transform="translate(734.7,772.8) scale(0.96,1)" font-size="9.7" fill="#5e5e5e" text-anchor="middle">20</text>
<text transform="translate(853.7,772.8) scale(0.96,1)" font-size="9.7" fill="#5e5e5e" text-anchor="middle">22</text>
<text transform="translate(972.7,772.8) scale(0.96,1)" font-size="9.7" fill="#5e5e5e" text-anchor="middle">24</text>
<text transform="translate(1081.9,772.8) scale(0.96,1)" font-size="9.7" fill="#5e5e5e" text-anchor="middle">29</text>
<text transform="translate(1171.1,772.8) scale(0.96,1)" font-size="9.7" fill="#5e5e5e" text-anchor="middle">13:00</text>
<text transform="translate(1260.4,772.8) scale(0.96,1)" font-size="9.7" fill="#5e5e5e" text-anchor="middle" font-weight="bold">Jun</text>
<text transform="translate(1379.5,772.8) scale(0.96,1)" font-size="9.7" fill="#5e5e5e" text-anchor="middle">5</text>
<text transform="translate(1468.7,772.8) scale(0.96,1)" font-size="9.7" fill="#5e5e5e" text-anchor="middle">13:00</text>
<rect x="1501" y="537" width="38" height="29" fill="#fff"/>
<rect x="1501" y="551" width="1" height="15" fill="#ccc"/>
<rect x="1502" y="543" width="4" height="1" fill="#444"/>
<text transform="translate(1509,547.3) scale(0.885,0.99)" font-size="10.4" fill="#111" stroke="#111" stroke-width="0.2">97.12</text>
<text transform="translate(1505,562.3) scale(0.885,0.99)" font-size="10.4" fill="#111" stroke="#111" stroke-width="0.2">02:07:59</text>
<rect x="1539" y="537" width="6" height="29" fill="#fff"/>
<rect x="1539" y="537" width="1" height="29" fill="#5f5f5f" shape-rendering="crispEdges"/>
<rect x="1501" y="86.50" width="38" height="14.4" fill="#ff0000"/>
<rect x="1501.2" y="93.10" width="3.8" height="1.2" fill="#fff" opacity="0.85"/>
<text transform="translate(1509,97.00) scale(0.9,0.96)" font-size="10" font-weight="bold" fill="#fff">98.37</text>
<rect x="1501" y="292.80" width="38" height="14.4" fill="#ff0000"/>
<rect x="1501.2" y="299.40" width="3.8" height="1.2" fill="#fff" opacity="0.85"/>
<text transform="translate(1509,303.30) scale(0.9,0.96)" font-size="10" font-weight="bold" fill="#fff">97.80</text>
<rect x="1501" y="381.90" width="38" height="14.4" fill="#ff0000"/>
<rect x="1501.2" y="388.50" width="3.8" height="1.2" fill="#fff" opacity="0.85"/>
<text transform="translate(1509,392.40) scale(0.9,0.96)" font-size="10" font-weight="bold" fill="#fff">97.55</text>
<rect x="1501" y="471.15" width="38" height="14.4" fill="#ff0000"/>
<rect x="1501.2" y="477.75" width="3.8" height="1.2" fill="#fff" opacity="0.85"/>
<text transform="translate(1509,481.65) scale(0.9,0.96)" font-size="10" font-weight="bold" fill="#fff">97.30</text>
<rect x="1501" y="578.60" width="38" height="14.4" fill="#38761d"/>
<rect x="1501.2" y="585.20" width="3.8" height="1.2" fill="#fff" opacity="0.85"/>
<text transform="translate(1509,589.10) scale(0.9,0.96)" font-size="10" font-weight="bold" fill="#fff">97.00</text>
<rect x="1501" y="670.35" width="38" height="14.4" fill="#38761d"/>
<rect x="1501.2" y="676.95" width="3.8" height="1.2" fill="#fff" opacity="0.85"/>
<text transform="translate(1509,680.85) scale(0.9,0.96)" font-size="10" font-weight="bold" fill="#fff">96.74</text>
<text x="10" y="22.7" font-size="10.4" font-weight="bold" fill="#4a4a4a" textLength="177.3" lengthAdjust="spacingAndGlyphs">U.S. Dollar Currency Index, 240, TVC</text>
<text x="10" y="36.8" font-size="10.3"  textLength="66.8" lengthAdjust="spacingAndGlyphs" fill="#5e5e5e">MA (50, close)</text>
<text x="10" y="51.1" font-size="10.3"  textLength="72.5" lengthAdjust="spacingAndGlyphs" fill="#5e5e5e">MA (100, close)</text>
<text x="10" y="65.3" font-size="10.3"  textLength="72.5" lengthAdjust="spacingAndGlyphs" fill="#5e5e5e">MA (200, close)</text>
</svg></body></html>
